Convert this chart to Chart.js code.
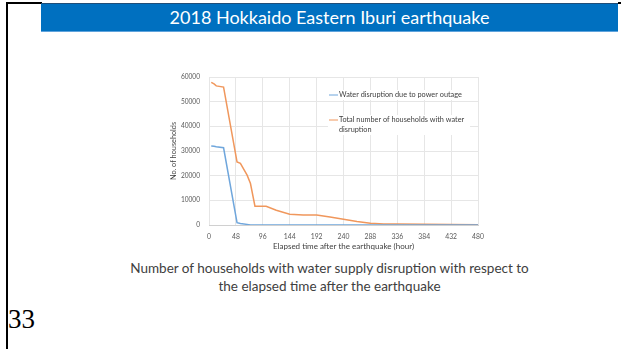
<!DOCTYPE html>
<html>
<head>
<meta charset="utf-8">
<script src="https://cdn.jsdelivr.net/npm/chart.js@4.4.0/dist/chart.umd.min.js"></script>
<style>
  html, body { margin: 0; padding: 0; background: #fff; }
  body { width: 621px; height: 349px; position: relative; overflow: hidden; font-family: Lato, "Open Sans", sans-serif; }
  .frame-left { position: absolute; left: 6px; top: 2px; width: 2px; height: 347px; background: #000; }
  .frame-top { position: absolute; left: 6px; top: 2px; width: 36px; height: 2px; background: #000; }
  .frame-tr { position: absolute; left: 618px; top: 2px; width: 3px; height: 2px; background: #000; }
  .banner { position: absolute; left: 41px; top: 3px; width: 577px; height: 29px; background: #0070c0;
            border-top: 1px solid #1f4e79; border-bottom: 1px solid #5fa3dc; box-sizing: border-box;
            color: #fff; font-size: 18px; text-align: center; line-height: 27px; }
  .chart-box { position: absolute; left: 150px; top: 62px; width: 345px; height: 195px; }
  .caption { position: absolute; left: 41px; width: 577px; top: 259px; text-align: center;
             font-size: 13.5px; line-height: 18px; color: #404040; }
  .page-no { position: absolute; left: 8px; top: 304px; font-family: "Liberation Serif", serif; font-size: 27px; color: #000; }
</style>
</head>
<body>
<div class="frame-left"></div>
<div class="frame-top"></div>
<div class="frame-tr"></div>
<div class="banner">2018 Hokkaido Eastern Iburi earthquake</div>
<div class="chart-box"><canvas id="quakeChart" width="345" height="195"></canvas></div>
<div class="caption">Number of households with water supply disruption with respect to<br>the elapsed time after the earthquake</div>
<div class="page-no">33</div>

<script>
// Elapsed hours and households
const hours = [4, 9, 13, 26, 50, 56, 68, 74, 82, 102, 120, 144, 168, 192, 216, 240, 264, 288, 312, 336, 384, 432, 480];
const powerOutage = [32000, 31900, 31700, 31300, 950, 600, 250, 50, 0, 0, 0, 0, 0, 0, 0, 0, 0, 0, 0, 0, 0, 0, 0];
const totalDisruption = [57800, 57200, 56400, 55900, 25600, 25000, 20200, 16800, 7600, 7600, 6000, 4400, 4100, 4100, 3200, 2300, 1400, 700, 450, 400, 300, 200, 150];
const seriesLabels = ['Water disruption due to power outage', 'Total number of households with water disruption'];
const xTicks = [0, 48, 96, 144, 192, 240, 288, 336, 384, 432, 480];
const yMax = 60000;

function toPoints(values) {
    return hours.map((h, i) => ({ x: h, y: values[i] }));
}

// Legend drawn inside the plot area, text wrapped like the original
const insideLegend = {
    id: 'insideLegend',
    afterDraw(chart) {
        const ctx = chart.ctx;
        const left = 179, tops = [33, 58];
        ctx.save();
        ctx.font = '7.3px Lato';
        ctx.textBaseline = 'middle';
        chart.data.datasets.forEach((ds, i) => {
            const y = tops[i];
            ctx.fillStyle = '#fff';
            ctx.fillRect(left - 1, y - 5, 142, i === 0 ? 10 : 20);
            ctx.strokeStyle = ds.borderColor;
            ctx.lineWidth = 1;
            ctx.beginPath();
            ctx.moveTo(left, y);
            ctx.lineTo(left + 9, y);
            ctx.stroke();
            // wrap words
            const words = ds.label.split(' ');
            let line = '', ly = y;
            ctx.fillStyle = '#404040';
            words.forEach(w => {
                const test = line ? line + ' ' + w : w;
                if (ctx.measureText(test).width > 130 && line) {
                    ctx.fillText(line, left + 10, ly);
                    line = w;
                    ly += 10;
                } else {
                    line = test;
                }
            });
            ctx.fillText(line, left + 10, ly);
        });
        ctx.restore();
    }
};

const chart = new Chart(document.getElementById('quakeChart'), {
    type: 'line',
    data: {
        datasets: [
            {
                label: seriesLabels[0],
                data: toPoints(powerOutage),
                borderColor: '#6fa6dc',
                borderWidth: 1.5,
                pointRadius: 0,
                tension: 0
            },
            {
                label: seriesLabels[1],
                data: toPoints(totalDisruption),
                borderColor: '#f0975c',
                borderWidth: 1.5,
                pointRadius: 0,
                tension: 0
            }
        ]
    },
    options: {
        responsive: false,
        animation: false,
        devicePixelRatio: 1,
        layout: { padding: { top: 15, right: 17, left: 19, bottom: 6 } },
        plugins: {
            legend: { display: false },
            tooltip: { enabled: false }
        },
        scales: {
            x: {
                type: 'linear',
                min: 0,
                max: 480,
                afterBuildTicks: axis => { axis.ticks = xTicks.map(v => ({ value: v })); },
                afterFit: axis => { axis.height = 26; },
                grid: { color: '#e6e6e6', drawTicks: false },
                border: { color: '#d0d0d0' },
                ticks: { color: '#595959', font: { family: 'Lato', size: 6.8 }, padding: 8, maxRotation: 0 },
                title: { display: true, text: 'Elapsed time after the earthquake (hour)', color: '#404040',
                         font: { family: 'Lato', size: 8 }, padding: { top: 1, bottom: 0 } }
            },
            y: {
                min: 0,
                max: yMax,
                afterFit: axis => { axis.width = 40; },
                grid: { color: '#e6e6e6', drawTicks: false },
                border: { display: false },
                ticks: { stepSize: 10000, color: '#595959', font: { family: 'Lato', size: 6.6 }, padding: 9,
                         callback: v => String(v) },
                title: { display: true, text: 'No. of households', color: '#404040',
                         font: { family: 'Lato', size: 7.3 }, padding: { top: 0, bottom: 2 } }
            }
        }
    },
    plugins: [insideLegend]
});
</script>
</body>
</html>
